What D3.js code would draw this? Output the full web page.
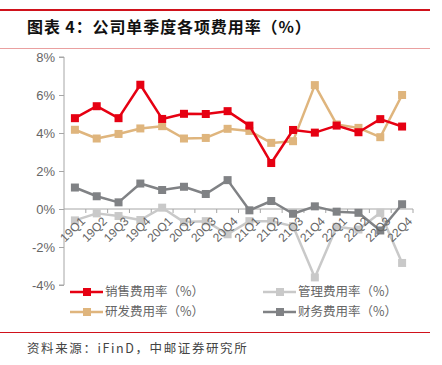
<!DOCTYPE html>
<html>
<head>
<meta charset="utf-8">
<script src="https://cdn.jsdelivr.net/npm/d3@7"></script>
<style>
  body { margin: 0; background: #fff; }
  svg { display: block; font-family: "Liberation Sans", Arial, sans-serif; }
</style>
</head>
<body>
<svg width="442" height="365"></svg>
<script>
// quarters on the x axis
var quarters = ["19Q1","19Q2","19Q3","19Q4","20Q1","20Q2","20Q3","20Q4",
                "21Q1","21Q2","21Q3","21Q4","22Q1","22Q2","22Q3","22Q4"];

// single-quarter expense ratios (%)
var sales   = [4.78, 5.41, 4.78, 6.54, 4.74, 5.01, 5.00, 5.15, 4.39, 2.42, 4.16, 4.02, 4.39, 4.04, 4.73, 4.34];
var admin   = [-0.60, -0.23, -0.37, -0.58, 0.07, -0.69, -0.64, -1.33, -0.64, -0.64, -0.90, -3.60, -0.94, -1.08, -0.20, -2.84];
var rnd     = [4.17, 3.71, 3.95, 4.24, 4.36, 3.71, 3.74, 4.22, 4.11, 3.48, 3.57, 6.52, 4.45, 4.27, 3.78, 6.00];
var finance = [1.13, 0.67, 0.35, 1.34, 1.00, 1.17, 0.79, 1.52, -0.07, 0.42, -0.25, 0.14, -0.14, -0.20, -1.13, 0.25];

var yTicks = [-4, -2, 0, 2, 4, 6, 8];

var series = [
  { name: "销售费用率（%）", values: sales,   color: "#e60012" },
  { name: "管理费用率（%）", values: admin,   color: "#c9c9c9" },
  { name: "研发费用率（%）", values: rnd,     color: "#dfb57d" },
  { name: "财务费用率（%）", values: finance, color: "#808285" }
];
// draw order: light lines underneath
var drawOrder = [1, 3, 2, 0];

var svg = d3.select("svg");

// header lines + title
svg.append("rect").attr("x", 0).attr("y", 9).attr("width", 430).attr("height", 2).attr("fill", "#d0121b");
svg.append("rect").attr("x", 0).attr("y", 48).attr("width", 430).attr("height", 1).attr("fill", "#eaa0a0");
svg.append("text")
  .attr("x", 27).attr("y", 33)
  .attr("font-family", "'Noto Sans CJK SC', sans-serif")
  .attr("font-size", 16).attr("font-weight", "bold")
  .attr("letter-spacing", 0.9)
  .attr("fill", "#111")
  .text("图表 4：公司单季度各项费用率（%）");

var x = d3.scaleBand().domain(quarters).range([64, 413]);
var y = d3.scaleLinear().domain([-4, 8]).range([285, 57]);

// y axis
var yAxis = svg.append("g")
  .attr("transform", "translate(64,0)")
  .call(d3.axisLeft(y).tickValues(yTicks).tickSize(5).tickPadding(4)
          .tickFormat(function(d){ return d + "%"; }));
yAxis.select(".domain").attr("stroke", "#a6a6a6").attr("d", "M-5," + y(-4) + "H0V" + y(8) + "H-5");
yAxis.selectAll(".tick line").attr("stroke", "#a6a6a6");
yAxis.selectAll(".tick text").attr("font-size", 13).attr("fill", "#666");

// x axis on the zero line
var xAxis = svg.append("g")
  .attr("transform", "translate(0," + y(0) + ")")
  .call(d3.axisBottom(x).tickSize(0).tickFormat(""));
xAxis.select(".domain").attr("stroke", "#a6a6a6").attr("d", "M64,0H413");
xAxis.selectAll(".bt")
  .data(quarters)
  .enter().append("line")
  .attr("x1", function(d){ return x(d) + x.bandwidth(); })
  .attr("x2", function(d){ return x(d) + x.bandwidth(); })
  .attr("y1", 0).attr("y2", 4)
  .attr("stroke", "#a6a6a6");

// lines and markers
var line = d3.line()
  .x(function(d, i){ return x(quarters[i]) + x.bandwidth() / 2; })
  .y(function(d){ return y(d); });

drawOrder.forEach(function(k){
  var s = series[k];
  svg.append("path")
    .datum(s.values)
    .attr("d", line)
    .attr("fill", "none")
    .attr("stroke", s.color)
    .attr("stroke-width", 2.5)
    .attr("stroke-linejoin", "round");
  svg.selectAll(".m" + k)
    .data(s.values)
    .enter().append("rect")
    .attr("x", function(d, i){ return x(quarters[i]) + x.bandwidth() / 2 - 4; })
    .attr("y", function(d){ return y(d) - 4; })
    .attr("width", 8).attr("height", 8)
    .attr("fill", s.color);
});

// rotated quarter labels (drawn on top, as in the original)
svg.append("g").selectAll("text")
  .data(quarters)
  .enter().append("text")
  .attr("transform", function(d){
    return "translate(" + (x(d) + x.bandwidth() / 2 + 5) + "," + (y(0) + 7) + ") rotate(-45)";
  })
  .attr("text-anchor", "end")
  .attr("dy", "0.7em")
  .attr("font-size", 12)
  .attr("fill", "#666")
  .text(function(d){ return d; });

// legend
var legendPos = [[70, 292], [263, 292], [70, 312], [263, 312]];
series.forEach(function(s, k){
  var p = legendPos[k];
  var g = svg.append("g").attr("transform", "translate(" + p[0] + "," + p[1] + ")");
  g.append("line").attr("x1", 0).attr("x2", 33).attr("y1", 0).attr("y2", 0)
    .attr("stroke", s.color).attr("stroke-width", 2.5);
  g.append("rect").attr("x", 13).attr("y", -4).attr("width", 8).attr("height", 8).attr("fill", s.color);
  g.append("text").attr("x", 35).attr("y", 0).attr("dy", "0.35em")
    .attr("font-family", "'Noto Sans CJK SC', sans-serif")
    .attr("font-size", 12.5).attr("fill", "#666")
    .text(s.name);
});

// footer
svg.append("rect").attr("x", 0).attr("y", 332).attr("width", 430).attr("height", 1).attr("fill", "#d0121b");
svg.append("text")
  .attr("x", 27).attr("y", 353)
  .attr("font-family", "'Noto Sans CJK SC', sans-serif")
  .attr("font-size", 12.5).attr("letter-spacing", 1.6)
  .attr("fill", "#444")
  .text("资料来源：iFinD，中邮证券研究所");
</script>
</body>
</html>
